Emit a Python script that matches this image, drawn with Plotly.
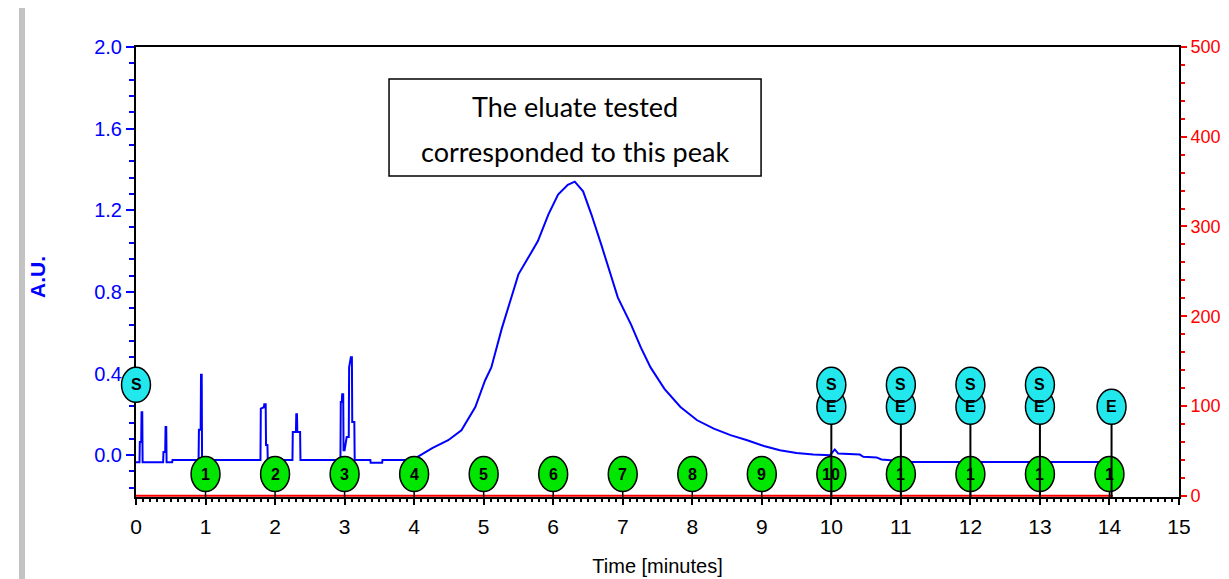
import plotly.graph_objects as go

# chromatogram (A.U.)
time_min = [0.00, 0.05, 0.055, 0.075, 0.08, 0.09, 0.095, 0.39, 0.395, 0.42, 0.425, 0.435, 0.44,
            0.52, 0.525, 0.90, 0.905, 0.93, 0.935, 0.945, 0.95,
            1.79, 1.795, 1.84, 1.845, 1.865, 1.87, 1.89, 1.895,
            2.25, 2.255, 2.30, 2.305, 2.315, 2.32, 2.36, 2.365,
            2.94, 2.945, 2.96, 2.965, 2.98, 2.985, 3.00, 3.03, 3.06, 3.065, 3.09, 3.105, 3.11, 3.14, 3.145,
            3.37, 3.375, 3.54, 3.545, 3.98,
            4.02, 4.26, 4.49, 4.68, 4.88, 5.02, 5.11, 5.26, 5.40, 5.50, 5.64, 5.78, 5.93, 6.07, 6.21,
            6.31, 6.43, 6.55, 6.69, 6.78, 6.93, 7.12, 7.26, 7.40, 7.60, 7.83, 8.07, 8.31, 8.55, 8.79,
            9.03, 9.26, 9.50, 9.74, 9.98, 10.05, 10.10, 10.41, 10.46, 10.65, 10.72, 11.17, 14.03]
absorb = [-0.035, -0.035, 0.065, 0.065, 0.21, 0.21, -0.035, -0.035, 0.016, 0.016, 0.138, 0.138, -0.035,
          -0.035, -0.024, -0.024, 0.125, 0.125, 0.394, 0.394, -0.024,
          -0.024, 0.228, 0.235, 0.249, 0.249, 0.05, 0.05, -0.024,
          -0.024, 0.114, 0.114, 0.20, 0.20, 0.114, 0.114, -0.024,
          -0.024, 0.26, 0.26, 0.298, 0.298, 0.024, 0.024, 0.089, 0.089, 0.43, 0.48, 0.48, 0.162, 0.162, -0.024,
          -0.024, -0.037, -0.037, -0.024, -0.024,
          -0.015, 0.034, 0.073, 0.122, 0.236, 0.366, 0.43, 0.62, 0.772, 0.886, 0.967, 1.049, 1.179, 1.277, 1.325,
          1.34, 1.293, 1.179, 1.033, 0.935, 0.772, 0.64, 0.528, 0.43, 0.325, 0.236, 0.171, 0.130, 0.098, 0.073,
          0.045, 0.024, 0.011, 0.003, 0.0, 0.028, 0.008, 0.003, -0.008, -0.011, -0.021, -0.033, -0.033]

# right-axis trace (flat at 0)
red_time = [0.0, 14.05]
red_value = [0, 0]

# fraction markers (green) and event markers (cyan)
fraction_x = [1, 2, 3, 4, 5, 6, 7, 8, 9, 10, 11, 12, 13, 14]
fraction_labels = ['1', '2', '3', '4', '5', '6', '7', '8', '9', '10', '1', '1', '1', '1']
start_x = [0, 10, 11, 12, 13]
end_x = [10, 11, 12, 13, 14.03]

X_RANGE = [0, 15]
FRACTION_Y = 24     # marker levels on the right axis
END_Y = 99
START_Y = 123.5
HALF_W = 0.208      # ellipse half width [min]
HALF_H = 19.5       # ellipse half height [right-axis units]
FONT = 'Liberation Sans'

fig = go.Figure()
fig.add_trace(go.Scatter(x=time_min, y=absorb, mode='lines', line=dict(color='#0000ff', width=2),
                         hoverinfo='skip', showlegend=False))
fig.add_trace(go.Scatter(x=red_time, y=red_value, yaxis='y2', mode='lines',
                         line=dict(color='#ff0000', width=2), showlegend=False))

shapes = []
annotations = []


def to_paper(x):
    # x in minutes -> paper fraction, so markers at the plot edge are not clipped
    return (x - X_RANGE[0]) / (X_RANGE[1] - X_RANGE[0])


def ellipse(xc, yc, color):
    return dict(type='circle', xref='paper', yref='y2', x0=to_paper(xc - HALF_W), x1=to_paper(xc + HALF_W),
                y0=yc - HALF_H, y1=yc + HALF_H, fillcolor=color,
                line=dict(color='black', width=1.5), layer='above')


def label(xc, yc, text):
    return dict(x=xc, y=yc, xref='x', yref='y2', text='<b>%s</b>' % text, showarrow=False,
                xanchor='center', yanchor='middle',
                font=dict(family=FONT, size=16, color='black'))


# stubs under fraction markers
for xc in fraction_x:
    shapes.append(dict(type='line', xref='x', yref='y2', x0=xc, x1=xc, y0=FRACTION_Y, y1=-7,
                       line=dict(color='black', width=1.5), layer='above'))
for xc, t in zip(fraction_x, fraction_labels):
    shapes.append(ellipse(xc, FRACTION_Y, '#00e600'))
    annotations.append(label(xc, FRACTION_Y, t))
# event lines
for xc in end_x:
    shapes.append(dict(type='line', xref='x', yref='y2', x0=xc, x1=xc, y0=END_Y, y1=-7,
                       line=dict(color='black', width=2), layer='above'))
for xc in end_x:
    shapes.append(ellipse(xc, END_Y, '#22e8ee'))
    annotations.append(label(xc, END_Y, 'E'))
for xc in start_x:
    shapes.append(ellipse(xc, START_Y, '#22e8ee'))
    annotations.append(label(xc, START_Y, 'S'))

# text box
shapes.append(dict(type='rect', xref='paper', yref='paper', x0=0.2426, x1=0.5993, y0=0.7133, y1=0.9289,
                   fillcolor='white', line=dict(color='black', width=1.5), layer='above'))
annotations.append(dict(x=0.4209, y=0.8673, xref='paper', yref='paper', text='The eluate tested',
                        xanchor='center', yanchor='middle', showarrow=False,
                        font=dict(family='Lato', size=27, color='black')))
annotations.append(dict(x=0.4209, y=0.7673, xref='paper', yref='paper', text='corresponded to this peak',
                        xanchor='center', yanchor='middle', showarrow=False,
                        font=dict(family='Lato', size=27, color='black')))
# grey bar at the left edge
shapes.append(dict(type='rect', xref='paper', yref='paper', x0=-0.1122, x1=-0.1064, y0=-0.3, y1=1.2,
                   fillcolor='#c3c3c3', line=dict(width=0), layer='above'))
# left axis title
annotations.append(dict(x=-0.0940, y=0.489, xref='paper', yref='paper', text='<b>A.U.</b>', textangle=-90,
                        xanchor='center', yanchor='middle', showarrow=False,
                        font=dict(family=FONT, size=21, color='#0000ff')))

# page has an 8px body margin, so the figure is 8px smaller and left/top margins shifted
fig.update_layout(
    width=1221, height=571,
    margin=dict(l=128, r=50, t=39, b=82),
    paper_bgcolor='white', plot_bgcolor='white',
    shapes=shapes, annotations=annotations,
    font=dict(family=FONT),
    xaxis=dict(range=X_RANGE, dtick=1, tick0=0, showgrid=False, zeroline=False, automargin=False,
               showline=True, linecolor='black', linewidth=2, mirror=True, layer='below traces',
               ticks='outside', ticklen=6, tickwidth=2, tickcolor='black', ticklabelstandoff=4,
               minor=dict(dtick=0.1, ticklen=3, tickwidth=1.5, tickcolor='black', ticks='outside'),
               tickfont=dict(family=FONT, size=21, color='black'),
               title=dict(text='Time [minutes]', font=dict(family=FONT, size=20, color='black'), standoff=22)),
    yaxis=dict(range=[-0.205, 2.0], dtick=0.4, tick0=0, tickformat='.1f', showgrid=False, zeroline=False,
               showline=True, linecolor='black', linewidth=2, automargin=False,
               ticks='outside', ticklen=8, tickwidth=2, tickcolor='#0000ff',
               minor=dict(dtick=0.08, ticklen=5, tickwidth=2, tickcolor='#0000ff', ticks='outside'),
               tickfont=dict(family=FONT, size=20, color='#0000ff')),
    yaxis2=dict(range=[-1.5, 500], dtick=100, tick0=0, overlaying='y', side='right', showgrid=False,
                zeroline=False, showline=True, linecolor='black', linewidth=2, automargin=False,
                ticks='outside', ticklen=6, tickwidth=2, tickcolor='#ff0000', ticklabelstandoff=0,
                minor=dict(dtick=20, ticklen=4, tickwidth=2, tickcolor='#ff0000', ticks='outside'),
                tickfont=dict(family=FONT, size=18, color='#ff0000')),
)

fig.write_html("out.html")
